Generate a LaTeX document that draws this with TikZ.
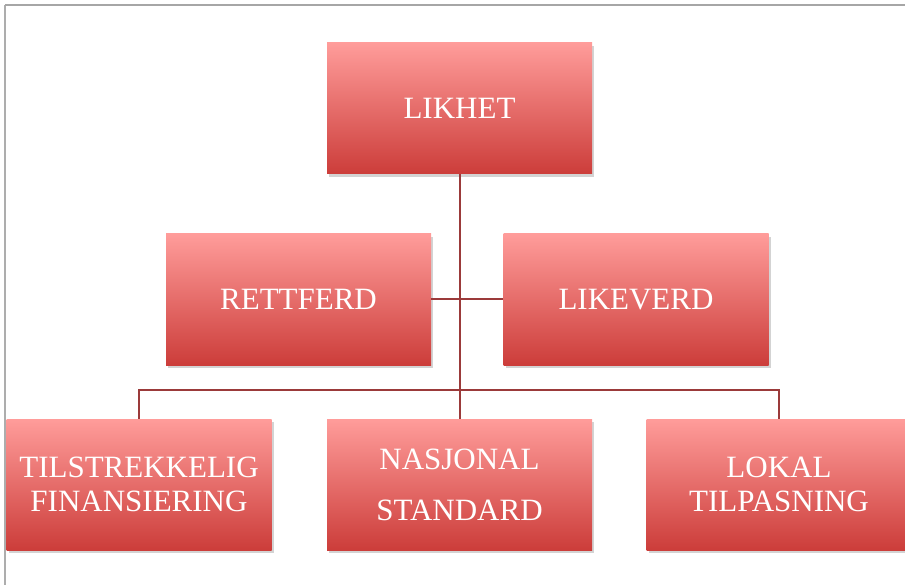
\documentclass[tikz,border=0pt]{standalone}
\usepackage{fontspec}
\setmainfont{Liberation Serif}
\usetikzlibrary{shadows}

\definecolor{boxtop}{HTML}{FF9C9A}
\definecolor{boxbottom}{HTML}{CC3D3A}
\definecolor{linkred}{HTML}{9B3A3A}

\tikzset{
  box/.style={rectangle, minimum width=265pt, minimum height=131pt,
    top color=boxtop, bottom color=boxbottom, text=white, align=center,
    font=\fontsize{31}{34}\selectfont,
    drop shadow={shadow xshift=2pt, shadow yshift=-3pt, opacity=0.35, fill=gray}},
  link/.style={draw=linkred, line width=2pt}
}

\begin{document}
\begin{tikzpicture}[x=1pt, y=-1pt]
    % Page and frame
    \useasboundingbox (0,0) rectangle (905,585);
    \clip (0,0) rectangle (905,585);
    \draw[line width=1.5pt, black!32] (5,585) -- (5,5);
    \draw[line width=1.5pt, black!35] (5,5) -- (905,5);

    % Draw boxes
    \node[box] (likhet) at (459.5,108.5) {LIKHET};
    \node[box] (rettferd) at (298.5,299.5) {RETTFERD};
    \node[box] (likeverd) at (636,299.5) {LIKEVERD};
    \node[box] (tilstrekkelig) at (139,484.5) {TILSTREKKELIG\\FINANSIERING};
    \node[box, font=\fontsize{31}{51}\selectfont] (nasjonal) at (459.5,484.5) {NASJONAL\\STANDARD};
    \node[box] (lokal) at (779,484.5) {LOKAL\\TILPASNING};

    % Draw connectors
    \coordinate (bus) at (459.5,390);
    \draw[link] (likhet.south) -- (nasjonal.north);
    \draw[link] (rettferd.east) -- (likeverd.west);
    \draw[link] (tilstrekkelig.north) |- (bus) -| (lokal.north);
\end{tikzpicture}
\end{document}
